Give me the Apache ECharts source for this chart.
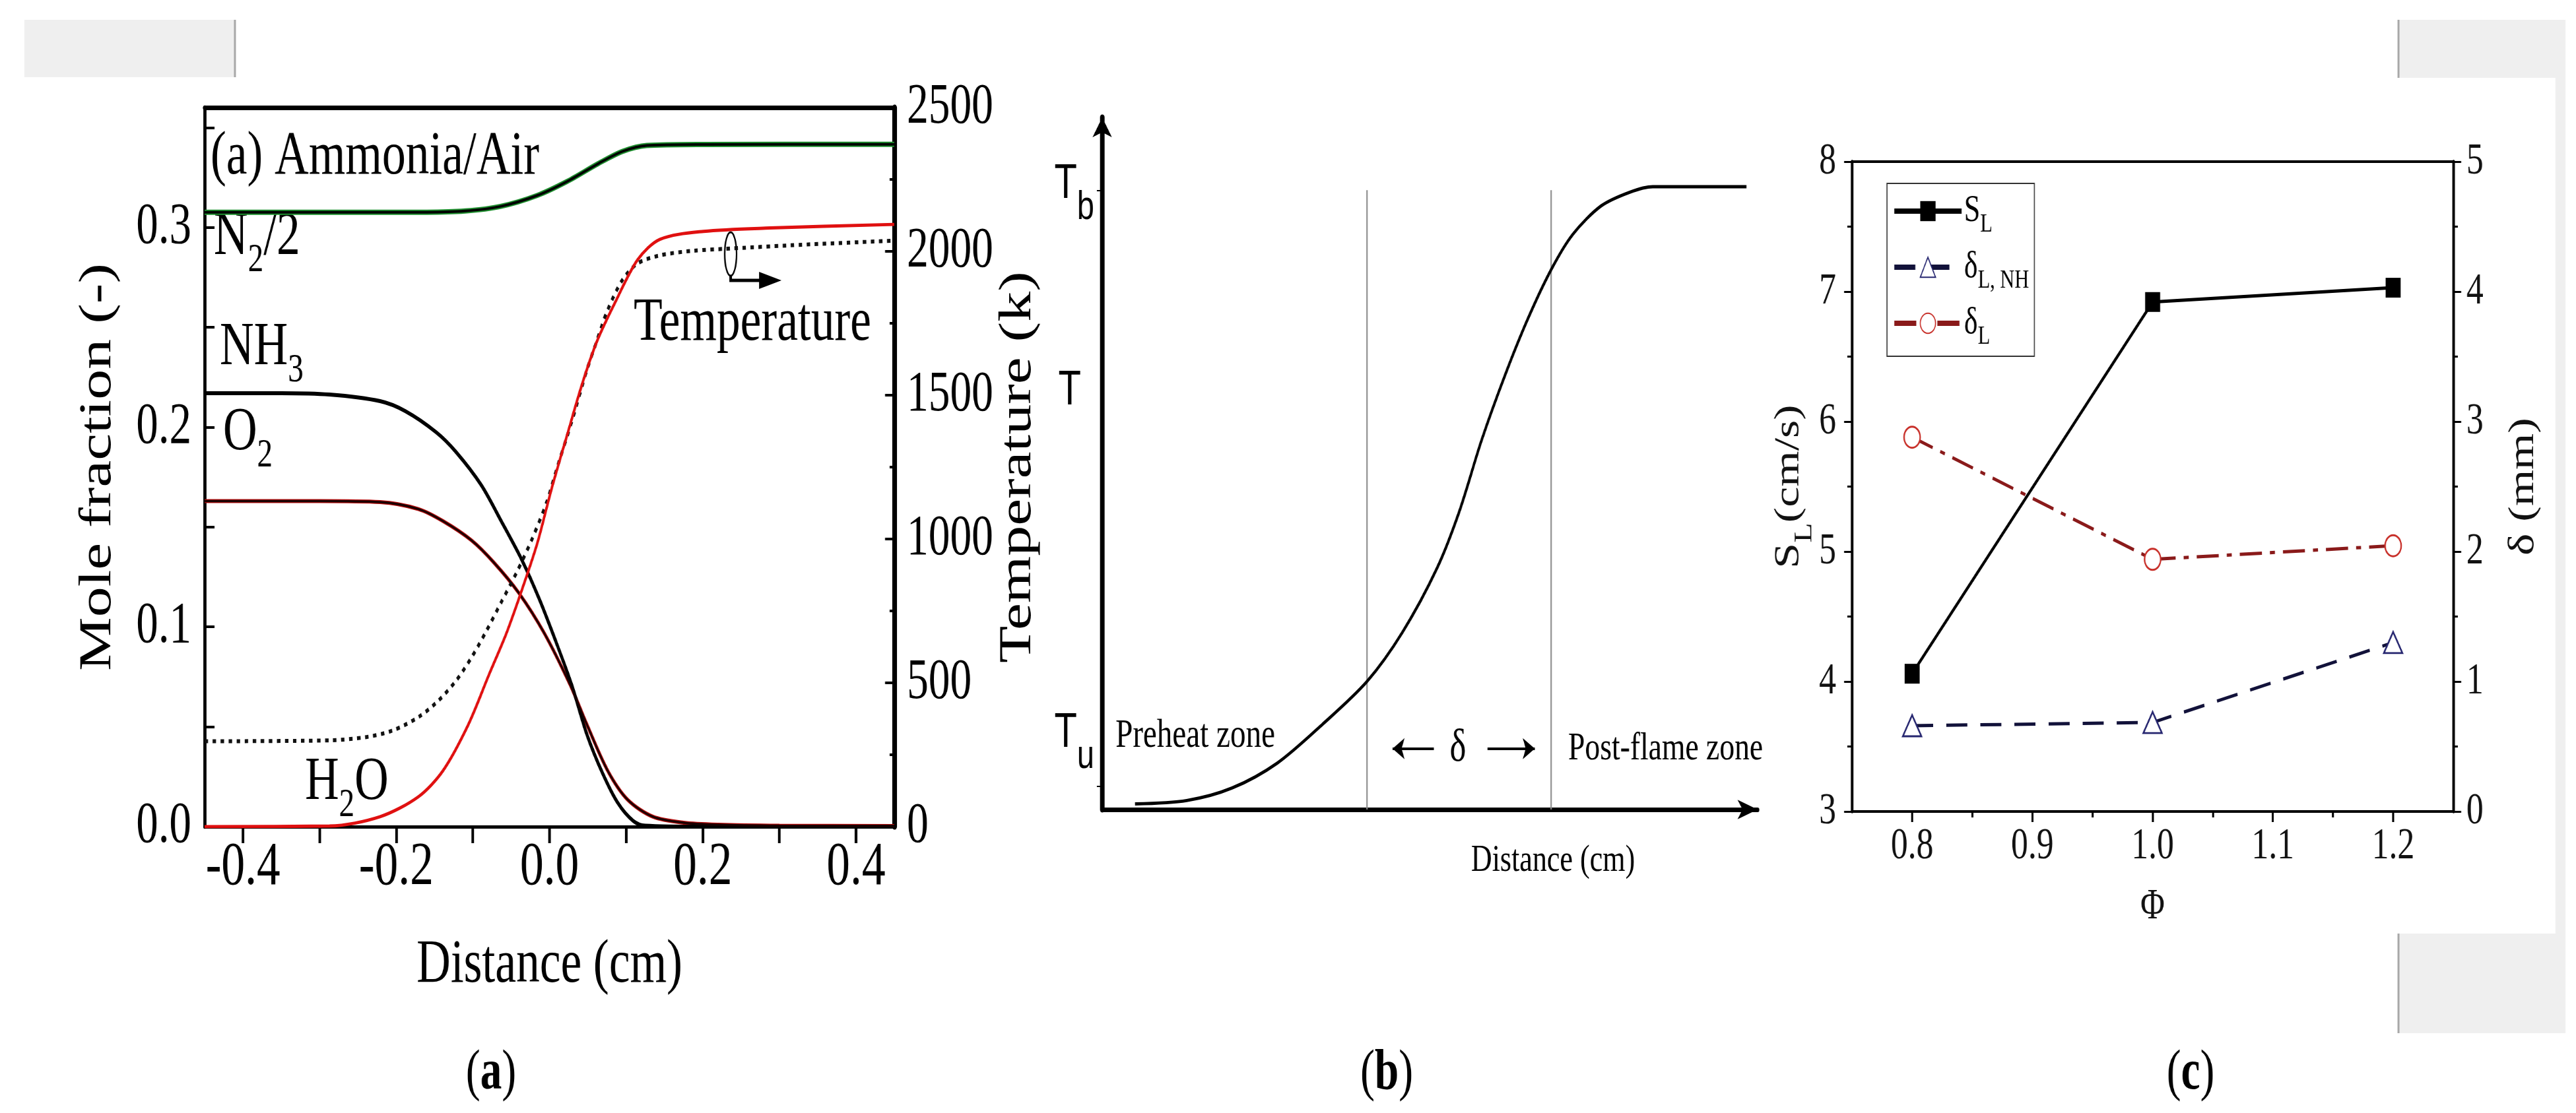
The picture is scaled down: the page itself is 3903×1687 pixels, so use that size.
<!DOCTYPE html>
<html>
<head>
<meta charset="utf-8">
<title>Ammonia/air flame structure</title>
<script src="https://cdn.jsdelivr.net/npm/echarts@6/dist/echarts.min.js"></script>
<style>
  html, body { margin: 0; padding: 0; overflow: hidden; background: #fff; }
  #chart { position: absolute; left: 0; top: 0; height: 1687px; transform-origin: 0 0; }
</style>
</head>
<body>
<div id="chart"></div>
<script>
// the source figure is squeezed horizontally, so draw wide and scale x down
const SQ = 0.76;
const U = (x) => x / SQ;

// (a) ammonia/air flame, distance in cm
const distN2 = [-0.45, -0.3, -0.16, -0.11, -0.064, -0.016, 0.023, 0.064, 0.095, 0.127, 0.2, 0.45];
const n2Half = [0.3076, 0.3076, 0.3076, 0.3082, 0.3105, 0.316, 0.323, 0.332, 0.338, 0.341, 0.3415, 0.3416];
const distNH3 = [-0.45, -0.35, -0.287, -0.221, -0.188, -0.148, -0.122, -0.089, -0.063, -0.036, -0.013, 0.01, 0.029, 0.049, 0.069, 0.089, 0.109, 0.125, 0.2, 0.45];
const nh3 = [0.217, 0.217, 0.2163, 0.213, 0.208, 0.1975, 0.1876, 0.171, 0.153, 0.1335, 0.1137, 0.091, 0.071, 0.046, 0.027, 0.012, 0.003, 0.0005, 0, 0];
const distO2 = [-0.45, -0.3, -0.221, -0.171, -0.139, -0.102, -0.072, -0.04, -0.007, 0.027, 0.049, 0.076, 0.102, 0.135, 0.175, 0.22, 0.3, 0.45];
const o2 = [0.163, 0.163, 0.1625, 0.159, 0.153, 0.1434, 0.132, 0.117, 0.097, 0.071, 0.051, 0.028, 0.0135, 0.005, 0.002, 0.001, 0.0005, 0.0003];
const distH2O = [-0.45, -0.287, -0.221, -0.171, -0.139, -0.106, -0.079, -0.056, -0.036, -0.016, 0.003, 0.023, 0.043, 0.062, 0.086, 0.115, 0.144, 0.201, 0.288, 0.45];
const h2o = [0, 0.0003, 0.005, 0.015, 0.028, 0.051, 0.076, 0.097, 0.1185, 0.1417, 0.1695, 0.196, 0.222, 0.243, 0.2627, 0.2838, 0.294, 0.298, 0.2997, 0.3015];
const distT = [-0.45, -0.287, -0.238, -0.204, -0.171, -0.145, -0.122, -0.102, -0.083, -0.063, -0.043, -0.023, -0.003, 0.01, 0.029, 0.049, 0.062, 0.075, 0.095, 0.115, 0.144, 0.187, 0.23, 0.345, 0.45];
const tempK = [297, 300, 312, 335, 381, 438, 507, 587, 677, 780, 883, 998, 1133, 1248, 1408, 1589, 1690, 1790, 1900, 1958, 1986, 2002, 2009, 2025, 2037];
const distTicks = [-0.4, -0.3, -0.2, -0.1, 0, 0.1, 0.2, 0.3, 0.4];
const distLabels = [-0.4, -0.2, 0, 0.2, 0.4];
const moleTicks = [0, 0.05, 0.1, 0.15, 0.2, 0.25, 0.3, 0.35];
const moleLabels = [0, 0.1, 0.2, 0.3];

// (b) flame zone schematic, arbitrary units 0-100
const zoneDist = [5.0, 12.9, 19.8, 26.7, 33.6, 40.4, 45.8, 51.1, 54.5, 57.9, 61.4, 64.9, 68.5, 71.8, 76.1, 80.5, 84.0, 98.3];
const zoneTemp = [0.8, 1.3, 3.1, 6.7, 12.3, 18.5, 25.6, 34.9, 43.1, 53.4, 62.6, 70.8, 78.0, 83.1, 87.2, 89.2, 90.0, 90.0];
const zoneBounds = [40.4, 68.5];
const zoneBoundTop = 89.5;
const schemTickValues = [11.0, 60.5, 90.3];
const schemTickLabels = ['{t|T}{s|u}', '{t|T}{g| }', '{t|T}{s|b}'];

// (c) speed and thickness vs equivalence ratio
const phi = [0.8, 1.0, 1.2];
const speedSL = [4.06, 6.92, 7.03];
const thickNH = [0.66, 0.685, 1.3];
const thickL = [2.88, 1.94, 2.045];
const phiTicks = [0.8, 0.9, 1.0, 1.1, 1.2];
const phiMinor = [0.85, 0.95, 1.05, 1.15];
const legendNames = ['SL', 'δL, NH', 'δL'];
const legendLabels = ['{m|S}{s|L}', '{m|δ}{s|L, NH}', '{m|δ}{s|L}'];

const serif = 'Liberation Serif';
const sans = 'Liberation Sans';
const pairs = (xs, ys) => xs.map((x, i) => [x, ys[i]]);

const dom = document.getElementById('chart');
dom.style.width = Math.round(3903 / SQ) + 'px';
dom.style.transform = 'scaleX(' + SQ + ')';
const chart = echarts.init(dom, null, { renderer: 'canvas' });

// rich styles for sub-scripted labels
const richA = {
  m: { fontSize: 94, lineHeight: 94, fontFamily: serif, color: '#000' },
  s: { fontSize: 62, lineHeight: 62, fontFamily: serif, color: '#000', padding: [70, 0, 0, 0] }
};
const richCap = {
  p: { fontSize: 86, fontFamily: serif, color: '#000' },
  b: { fontSize: 86, fontFamily: serif, fontWeight: 'bold', color: '#000' }
};
const blackLine = (w) => ({ onZero: false, lineStyle: { color: '#000', width: w } });

function annot(x, y, text, rich, align) {
  return {
    type: 'text', x: U(x), y: y, silent: true,
    style: { text: text, rich: rich, align: align || 'left', verticalAlign: 'middle', fill: '#000' }
  };
}

const option = {
  animation: false,
  backgroundColor: '#ffffff',
  textStyle: { fontFamily: serif, color: '#000' },
  grid: [
    { left: U(310), top: 163, width: U(1355) - U(310), height: 1090, outerBoundsMode: 'none' },
    { left: U(1670), top: 178, width: U(2663) - U(1670), height: 1049, outerBoundsMode: 'none' },
    { left: U(2806), top: 245, width: U(3717) - U(2806), height: 985, outerBoundsMode: 'none' }
  ],
  xAxis: [
    {
      gridIndex: 0, type: 'value', position: 'bottom', min: -0.45, max: 0.45,
      axisLine: blackLine(5),
      axisTick: { customValues: distTicks, length: 25, lineStyle: { color: '#000', width: U(4) } },
      axisLabel: { customValues: distLabels, formatter: (v) => v.toFixed(1), fontSize: 94, fontFamily: serif, color: '#000', margin: 15 },
      splitLine: { show: false },
      name: 'Distance (cm)', nameLocation: 'middle', nameGap: 160,
      nameTextStyle: { fontSize: 94, lineHeight: 100, fontFamily: serif, color: '#000' }
    },
    {
      gridIndex: 0, type: 'value', position: 'top', min: -0.45, max: 0.45,
      axisLine: blackLine(7), axisTick: { show: false }, axisLabel: { show: false }, splitLine: { show: false }
    },
    {
      gridIndex: 1, type: 'value', min: 0, max: 100,
      axisLine: { onZero: false, symbol: ['none', 'arrow'], symbolSize: [22, 40], lineStyle: { color: '#000', width: 7 } },
      axisTick: { show: false }, axisLabel: { show: false }, splitLine: { show: false }
    },
    {
      gridIndex: 2, type: 'value', position: 'bottom', min: 0.75, max: 1.25,
      axisLine: blackLine(4),
      axisTick: { customValues: phiTicks, length: 16, lineStyle: { color: '#000', width: U(3) } },
      axisLabel: { customValues: phiTicks, formatter: (v) => v.toFixed(1), fontSize: 68, fontFamily: serif, color: '#111', margin: 19 },
      splitLine: { show: false },
      name: 'Φ', nameLocation: 'middle', nameGap: 112,
      nameTextStyle: { fontSize: 66, lineHeight: 66, fontFamily: serif, color: '#111' }
    },
    {
      gridIndex: 2, type: 'value', position: 'bottom', min: 0.75, max: 1.25,
      axisLine: { show: false, onZero: false },
      axisTick: { customValues: phiMinor, length: 9, lineStyle: { color: '#000', width: U(3) } },
      axisLabel: { show: false }, splitLine: { show: false }
    },
    {
      gridIndex: 2, type: 'value', position: 'top', min: 0.75, max: 1.25,
      axisLine: blackLine(4), axisTick: { show: false }, axisLabel: { show: false }, splitLine: { show: false }
    }
  ],
  yAxis: [
    {
      gridIndex: 0, type: 'value', position: 'left', min: 0, max: 0.36,
      axisLine: blackLine(U(5)),
      axisTick: { customValues: moleTicks, inside: true, length: U(15), lineStyle: { color: '#000', width: 4 } },
      axisLabel: { customValues: moleLabels, formatter: (v) => v.toFixed(1), fontSize: 88, fontFamily: serif, color: '#000', margin: U(20) },
      splitLine: { show: false },
      name: 'Mole fraction (-)', nameLocation: 'middle', nameGap: 166,
      nameTextStyle: { fontSize: 92, lineHeight: 92, fontFamily: serif, color: '#000' }
    },
    {
      gridIndex: 0, type: 'value', position: 'right', min: 0, max: 2500, interval: 500,
      axisLine: blackLine(U(7)),
      axisTick: { inside: true, length: U(14), lineStyle: { color: '#000', width: 4 } },
      minorTick: { show: true, splitNumber: 2, length: U(7), lineStyle: { color: '#000', width: 4 } },
      axisLabel: { formatter: (v) => String(v), fontSize: 86, fontFamily: serif, color: '#000', margin: U(19) },
      splitLine: { show: false }, minorSplitLine: { show: false },
      name: 'Temperature (k)', nameLocation: 'middle', nameGap: 116,
      nameTextStyle: { fontSize: 92, lineHeight: 92, fontFamily: serif, color: '#000' }
    },
    {
      gridIndex: 1, type: 'value', min: 0, max: 100,
      axisLine: { onZero: false, symbol: ['none', 'arrow'], symbolSize: [U(22), 30], lineStyle: { color: '#000', width: U(7) } },
      axisTick: { customValues: [3.4, 89.4], length: U(8), lineStyle: { color: '#000', width: 2 } },
      axisLabel: {
        customValues: schemTickValues,
        formatter: (v) => { const i = schemTickValues.indexOf(v); return i >= 0 ? schemTickLabels[i] : ''; },
        margin: U(12), color: '#000',
        rich: {
          t: { fontSize: 74, lineHeight: 74, fontFamily: sans, color: '#000' },
          s: { fontSize: 62, lineHeight: 62, fontFamily: sans, color: '#000', padding: [70, 0, 0, 0] },
          g: { fontSize: 66, width: U(20) }
        }
      },
      splitLine: { show: false }
    },
    {
      gridIndex: 2, type: 'value', position: 'left', min: 3, max: 8, interval: 1,
      axisLine: blackLine(U(4)),
      axisTick: { length: U(12), lineStyle: { color: '#000', width: 3 } },
      minorTick: { show: true, splitNumber: 2, length: U(7), lineStyle: { color: '#000', width: 3 } },
      axisLabel: { fontSize: 68, fontFamily: serif, color: '#111', margin: U(24) },
      splitLine: { show: false }, minorSplitLine: { show: false },
      name: '{m|S}{s|L}{m|(cm/s)}', nameLocation: 'middle', nameGap: 60,
      nameTextStyle: {
        color: '#111',
        rich: {
          m: { fontSize: 70, lineHeight: 70, fontFamily: serif, color: '#111' },
          s: { fontSize: 50, lineHeight: 50, fontFamily: serif, color: '#111', padding: [62, 0, 0, 0] }
        }
      }
    },
    {
      gridIndex: 2, type: 'value', position: 'right', min: 0, max: 5, interval: 1,
      axisLine: blackLine(U(4)),
      axisTick: { length: U(12), lineStyle: { color: '#000', width: 3 } },
      minorTick: { show: true, splitNumber: 2, length: U(7), lineStyle: { color: '#000', width: 3 } },
      axisLabel: { fontSize: 68, fontFamily: serif, color: '#111', margin: U(20) },
      splitLine: { show: false }, minorSplitLine: { show: false },
      name: 'δ (mm)', nameLocation: 'middle', nameGap: 105,
      nameTextStyle: { fontSize: 71, lineHeight: 71, fontFamily: serif, color: '#111' }
    }
  ],
  legend: {
    data: legendNames, orient: 'vertical', left: U(2859), top: 278,
    itemWidth: U(102), itemHeight: 38, itemGap: 5,
    padding: [2, U(8), 10, U(8)],
    borderColor: '#333', borderWidth: 2, selectedMode: false,
    formatter: (name) => legendLabels[legendNames.indexOf(name)],
    lineStyle: { width: 8 },
    textStyle: {
      color: '#000', fontFamily: serif, fontSize: 58,
      rich: {
        m: { fontSize: 58, lineHeight: 58, fontFamily: serif, color: '#000' },
        s: { fontSize: 40, lineHeight: 40, fontFamily: serif, color: '#000', padding: [40, 0, 0, 0] }
      }
    }
  },
  series: [
    // (a)
    {
      name: 'N2/2 edge', type: 'line', xAxisIndex: 0, yAxisIndex: 0, data: pairs(distN2, n2Half),
      smooth: 0.3, symbol: 'none', silent: true,
      lineStyle: { color: '#1f8f2f', width: 8 }, z: 2
    },
    {
      name: 'N2/2', type: 'line', xAxisIndex: 0, yAxisIndex: 0, data: pairs(distN2, n2Half),
      smooth: 0.3, symbol: 'none', silent: true,
      lineStyle: { color: '#000', width: 4 }, z: 3
    },
    {
      name: 'NH3', type: 'line', xAxisIndex: 0, yAxisIndex: 0, data: pairs(distNH3, nh3),
      smooth: 0.3, symbol: 'none', silent: true,
      lineStyle: { color: '#000', width: 6 }, z: 3
    },
    {
      name: 'O2 edge', type: 'line', xAxisIndex: 0, yAxisIndex: 0, data: pairs(distO2, o2),
      smooth: 0.3, symbol: 'none', silent: true,
      lineStyle: { color: '#b81010', width: 6 }, z: 2
    },
    {
      name: 'O2', type: 'line', xAxisIndex: 0, yAxisIndex: 0, data: pairs(distO2, o2),
      smooth: 0.3, symbol: 'none', silent: true,
      lineStyle: { color: '#1a0000', width: 3.5 }, z: 3
    },
    {
      name: 'H2O', type: 'line', xAxisIndex: 0, yAxisIndex: 0, data: pairs(distH2O, h2o),
      smooth: 0.3, symbol: 'none', silent: true,
      lineStyle: { color: '#e01010', width: 5 }, z: 4
    },
    {
      name: 'Temperature', type: 'line', xAxisIndex: 0, yAxisIndex: 1, data: pairs(distT, tempK),
      smooth: 0.3, symbol: 'none', silent: true,
      lineStyle: { color: '#111', width: 6, type: [7, 9] }, z: 3
    },
    // (b)
    {
      name: 'T profile', type: 'line', xAxisIndex: 2, yAxisIndex: 2, data: pairs(zoneDist, zoneTemp),
      smooth: 0.3, symbol: 'none', silent: true,
      lineStyle: { color: '#000', width: 5 }, z: 3,
      markLine: {
        silent: true, symbol: ['none', 'arrow'], symbolSize: 24, animation: false,
        label: { show: false },
        lineStyle: { color: '#000', width: 4, type: 'solid' },
        data: [
          [{ coord: [50.6, 8.8] }, { coord: [44.3, 8.8] }],
          [{ coord: [58.8, 8.8] }, { coord: [66.0, 8.8] }]
        ]
      }
    },
    ...zoneBounds.map((b, i) => ({
      name: 'zone bound ' + i, type: 'line', xAxisIndex: 2, yAxisIndex: 2,
      data: [[b, 0], [b, zoneBoundTop]], symbol: 'none', silent: true,
      lineStyle: { color: '#8c8c8c', width: U(2) }, z: 2
    })),
    // (c)
    {
      name: 'SL', type: 'line', xAxisIndex: 3, yAxisIndex: 3, data: pairs(phi, speedSL),
      symbol: 'rect', symbolSize: [30, 30], silent: true,
      itemStyle: { color: '#000' }, lineStyle: { color: '#000', width: 5 }, z: 5
    },
    {
      name: 'δL, NH', type: 'line', xAxisIndex: 3, yAxisIndex: 4, data: pairs(phi, thickNH),
      symbol: 'triangle', symbolSize: [37, 32], silent: true,
      itemStyle: { color: '#ffffff', borderColor: '#25256f', borderWidth: 3 },
      lineStyle: { color: '#12123a', width: 5, type: [42, 26] }, z: 4
    },
    {
      name: 'δL', type: 'line', xAxisIndex: 3, yAxisIndex: 4, data: pairs(phi, thickL),
      symbol: 'circle', symbolSize: [32, 32], silent: true,
      itemStyle: { color: '#ffffff', borderColor: '#c8302a', borderWidth: 3 },
      lineStyle: { color: '#8a1a1a', width: 5, type: [44, 16, 10, 16] }, z: 4
    }
  ],
  graphic: {
    elements: [
      // grey page furniture
      { type: 'rect', silent: true, z: -10, shape: { x: U(37), y: 30, width: U(356) - U(37), height: 87 }, style: { fill: '#efefef' } },
      { type: 'line', silent: true, z: -9, shape: { x1: U(356), y1: 30, x2: U(356), y2: 117 }, style: { stroke: '#a8a8a8', lineWidth: U(3) } },
      { type: 'rect', silent: true, z: -10, shape: { x: U(3634), y: 30, width: U(3887) - U(3634), height: 88 }, style: { fill: '#efefef' } },
      { type: 'rect', silent: true, z: -10, shape: { x: U(3634), y: 1415, width: U(3887) - U(3634), height: 151 }, style: { fill: '#efefef' } },
      { type: 'rect', silent: true, z: -10, shape: { x: U(3872), y: 118, width: U(3887) - U(3872), height: 1297 }, style: { fill: '#efefef' } },
      { type: 'line', silent: true, z: -9, shape: { x1: U(3634), y1: 30, x2: U(3634), y2: 118 }, style: { stroke: '#a8a8a8', lineWidth: U(3) } },
      { type: 'line', silent: true, z: -9, shape: { x1: U(3634), y1: 1415, x2: U(3634), y2: 1566 }, style: { stroke: '#a8a8a8', lineWidth: U(3) } },

      // (a) annotations
      annot(319, 238, '{m|(a) Ammonia/Air}', richA),
      annot(324, 360, '{m|N}{s|2}{m|/2}', richA),
      annot(333, 527, '{m|NH}{s|3}', richA),
      annot(338, 656, '{m|O}{s|2}', richA),
      annot(960, 490, '{m|Temperature}', richA),
      annot(462, 1186, '{m|H}{s|2}{m|O}', richA),
      { type: 'ellipse', silent: true, shape: { cx: U(1107), cy: 385, rx: U(9), ry: 33 }, style: { fill: 'none', stroke: '#000', lineWidth: 3 } },
      { type: 'polyline', silent: true, shape: { points: [[U(1107), 418], [U(1107), 425], [U(1160), 425]] }, style: { fill: 'none', stroke: '#000', lineWidth: 5 } },
      { type: 'polygon', silent: true, shape: { points: [[U(1150), 412], [U(1184), 425], [U(1150), 438]] }, style: { fill: '#000' } },

      // (b) annotations
      annot(1690, 1116, '{z|Preheat zone}', { z: { fontSize: 62, fontFamily: serif, color: '#111' } }),
      annot(2209, 1135, '{z|δ}', { z: { fontSize: 70, fontFamily: serif, color: '#111' } }, 'center'),
      annot(2376, 1135, '{z|Post-flame zone}', { z: { fontSize: 60, fontFamily: serif, color: '#111' } }),
      annot(2353, 1305, '{z|Distance (cm)}', { z: { fontSize: 58, fontFamily: serif, color: '#111' } }, 'center'),

      // captions
      annot(744, 1628, '{p|(}{b|a}{p|)}', richCap, 'center'),
      annot(2101, 1628, '{p|(}{b|b}{p|)}', richCap, 'center'),
      annot(3319, 1628, '{p|(}{b|c}{p|)}', richCap, 'center')
    ]
  }
};

chart.setOption(option);
</script>
</body>
</html>
